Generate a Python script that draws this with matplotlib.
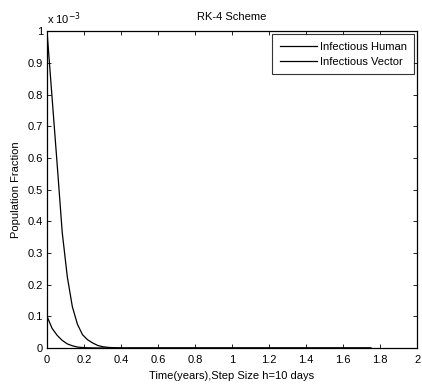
import matplotlib
matplotlib.use("Agg")
import matplotlib.pyplot as plt

# time in years (RK-4 nodes, step h = 10 days)
t = [0.0000, 0.0274, 0.0548, 0.0822, 0.1096, 0.1370, 0.1644, 0.1918, 0.2192,
     0.2466, 0.2740, 0.3014, 0.3288, 0.3562, 0.3836, 0.4110, 0.6000, 1.0000,
     1.4000, 1.7500]
# values in units of 1e-3
vector = [1.000, 0.790, 0.580, 0.365, 0.225, 0.130, 0.075, 0.042, 0.026,
          0.016, 0.008, 0.004, 0.002, 0.001, 0.0005, 0.0, 0.0, 0.0, 0.0, 0.0]
human = [0.100, 0.062, 0.040, 0.024, 0.013, 0.007, 0.003, 0.0015, 0.0007,
         0.0003, 0.0, 0.0, 0.0, 0.0, 0.0, 0.0, 0.0, 0.0, 0.0, 0.0]

xticks = [0, 0.2, 0.4, 0.6, 0.8, 1, 1.2, 1.4, 1.6, 1.8, 2]
xticklabels = ["0", "0.2", "0.4", "0.6", "0.8", "1", "1.2", "1.4", "1.6", "1.8", "2"]
yticks = [0, 0.1, 0.2, 0.3, 0.4, 0.5, 0.6, 0.7, 0.8, 0.9, 1]
yticklabels = ["0", "0.1", "0.2", "0.3", "0.4", "0.5", "0.6", "0.7", "0.8", "0.9", "1"]

plt.rcParams['font.family'] = ['Liberation Sans', 'DejaVu Sans']
fs = 8

fig = plt.figure(figsize=(4.22, 3.85), dpi=100)
ax = fig.add_axes([0.1114, 0.0961, 0.877, 0.823])

ax.plot(t, human, color='black', lw=0.9, label='Infectious Human')
ax.plot(t, vector, color='black', lw=0.9, label='Infectious Vector')

ax.set_xlim(0, 2)
ax.set_ylim(0, 1)
ax.set_xticks(xticks)
ax.set_xticklabels(xticklabels, fontsize=fs)
ax.set_yticks(yticks)
ax.set_yticklabels(yticklabels, fontsize=fs)
ax.tick_params(direction='in', length=3, width=0.6, top=True, right=True)
ax.tick_params(axis='x', pad=5)
ax.tick_params(axis='y', pad=3)
for s in ax.spines.values():
    s.set_linewidth(0.9)

ax.set_title('RK-4 Scheme', fontsize=fs, pad=8)
ax.set_xlabel('Time(years),Step Size h=10 days', fontsize=fs, labelpad=4)
ax.set_ylabel('Population Fraction', fontsize=fs, labelpad=5)
ax.text(0.0, 1.012, r'x 10$^{-3}$', transform=ax.transAxes, fontsize=fs,
        ha='left', va='bottom')

leg = ax.legend(loc='upper right', fontsize=fs, frameon=True, fancybox=False,
                borderaxespad=0.25, handlelength=3.3, handletextpad=0.25,
                labelspacing=0.45, borderpad=0.7)
leg.get_frame().set_edgecolor('black')
leg.get_frame().set_linewidth(0.8)

fig.savefig('out.png', dpi=100)
